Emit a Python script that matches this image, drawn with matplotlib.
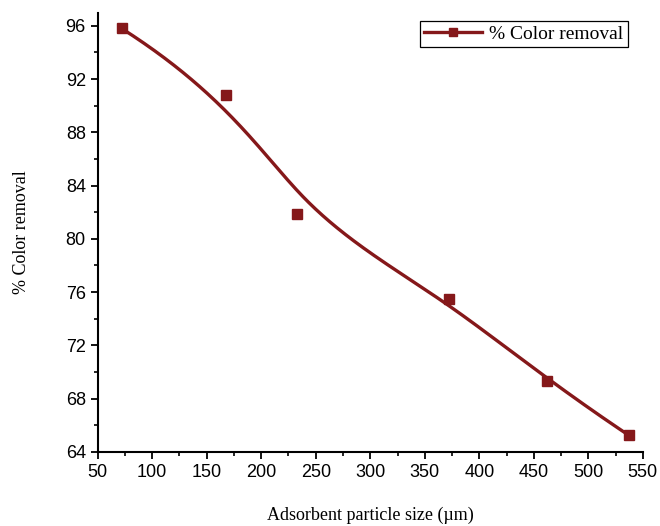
import matplotlib
matplotlib.use("Agg")
import matplotlib.pyplot as plt
import numpy as np
from matplotlib.ticker import MultipleLocator

# data
size_um = [72, 168, 233, 372, 462, 537]
removal = [95.8, 90.8, 81.85, 75.5, 69.35, 65.25]

col = "#85181a"


def bspline(px, py, n=400, k=3):
  # clamped uniform B-spline with the data points as control points
  px = np.asarray(px, float)
  py = np.asarray(py, float)
  m = len(px)
  inner = np.arange(1, m - k) / (m - k)
  t = np.concatenate([np.zeros(k + 1), inner, np.ones(k + 1)])
  u = np.linspace(0, 1, n)
  u[-1] = 1 - 1e-12

  def basis(i, p, uu):
    if p == 0:
      return ((t[i] <= uu) & (uu < t[i + 1])).astype(float)
    a = np.zeros_like(uu)
    b = np.zeros_like(uu)
    if t[i + p] != t[i]:
      a = (uu - t[i]) / (t[i + p] - t[i]) * basis(i, p - 1, uu)
    if t[i + p + 1] != t[i + 1]:
      b = (t[i + p + 1] - uu) / (t[i + p + 1] - t[i + 1]) * basis(i + 1, p - 1, uu)
    return a + b

  B = np.array([basis(i, k, u) for i in range(m)])
  return B.T @ px, B.T @ py


fig = plt.figure(figsize=(6.6, 5.26), dpi=100)
ax = fig.add_axes([0.148, 0.141, 0.826, 0.834])

sx, sy = bspline(size_um, removal)
ax.plot(sx, sy, color=col, lw=2.4, zorder=2)
ax.plot(size_um, removal, ls="none", marker="s", ms=7, color=col, zorder=3)
# legend proxy
ax.plot([], [], color=col, lw=2.4, marker="s", ms=6, label="% Color removal")

ax.set_xlim(50, 550)
ax.set_ylim(64, 96.95)
ax.xaxis.set_major_locator(MultipleLocator(50))
ax.xaxis.set_minor_locator(MultipleLocator(25))
ax.yaxis.set_major_locator(MultipleLocator(4))
ax.yaxis.set_minor_locator(MultipleLocator(2))

for s in ["top", "right"]:
  ax.spines[s].set_visible(False)
for s in ["left", "bottom"]:
  ax.spines[s].set_linewidth(1.5)

ax.tick_params(which="major", length=5, width=1.3, labelsize=13, direction="out")
ax.tick_params(which="minor", length=3, width=1.2, direction="out")
for lab in ax.get_xticklabels() + ax.get_yticklabels():
  lab.set_fontfamily("Liberation Sans")

ax.set_xlabel("Adsorbent particle size (µm)", family="Liberation Serif", fontsize=13, labelpad=19)
ax.set_ylabel("% Color removal", family="Liberation Serif", fontsize=13, labelpad=26)

leg = ax.legend(loc="upper right", bbox_to_anchor=(0.99, 1.005), prop={"family": "Liberation Serif", "size": 14},
                fancybox=False, edgecolor="black", framealpha=1, handlelength=3.0, borderpad=0.22,
                handletextpad=0.35, borderaxespad=0.5)
leg.get_frame().set_linewidth(0.9)

fig.savefig("out.png", dpi=100)
